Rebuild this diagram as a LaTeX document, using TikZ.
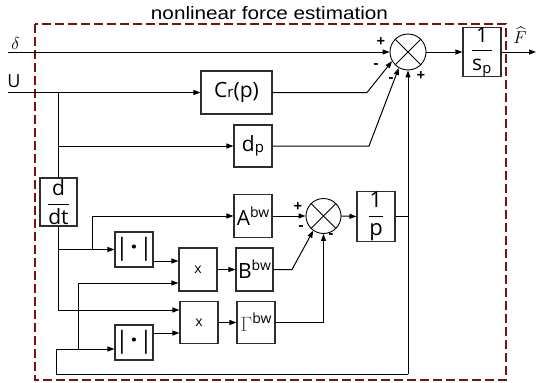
\documentclass[tikz,border=0pt]{standalone}
\usepackage{fontspec}
\usepackage{amsmath}
\setmainfont{Open Sans}
\newfontfamily\titlefont[FakeStretch=1.15]{Liberation Sans}
\usetikzlibrary{arrows.meta}
\definecolor{framec}{RGB}{122,16,16}
\definecolor{boxc}{RGB}{45,45,45}
\begin{document}
\begin{tikzpicture}[x=1pt,y=-1pt,
  >={Triangle[length=7pt,width=5pt]},
  blk/.style={draw=boxc, line width=1.1pt, inner sep=0pt, font=\fontsize{21}{23}\selectfont},
  sumj/.style={circle, draw=black, line width=0.9pt, minimum size=36pt, inner sep=0pt,
    path picture={\draw[line width=0.8pt] (path picture bounding box.north west) -- (path picture bounding box.south east)
      (path picture bounding box.north east) -- (path picture bounding box.south west);}},
  wire/.style={line width=1pt},
  sgn/.style={font=\fontsize{15}{15}\selectfont\bfseries, inner sep=0pt},
  absbox/.style={blk, minimum width=38pt, minimum height=35pt, font=\fontsize{24}{24}\selectfont},
  lbl/.style={font=\fontsize{18}{18}\selectfont, inner sep=0pt}]
\useasboundingbox (0,0) rectangle (536,383);
% frame
\draw[framec, line width=2.5pt, dash pattern=on 9pt off 4pt] (35,24) rectangle (506,380);
\node[font=\titlefont\fontsize{18}{20}\selectfont, anchor=base, inner sep=0pt] (title) at (269.5,19) {nonlinear force estimation};
% blocks
\node[sumj] (s1) at (408,52) {};
\node[blk, minimum width=38pt, minimum height=46pt] (F1) at (482,52) {$\dfrac{\text{1}}{\text{s}_{\text{p}}}$};
\node[blk, minimum width=71pt, minimum height=43pt] (Cr) at (236.5,92.5) {C{\fontsize{15}{15}\selectfont r}(p)};
\node[blk, minimum width=38pt, minimum height=42pt] (dp) at (253,146) {d\raisebox{-1.5pt}{\fontsize{15}{15}\selectfont p}};
\node[blk, minimum width=37pt, minimum height=48pt] (ddt) at (58.5,202) {$\dfrac{\text{d}}{\text{dt}}$};
\node[blk, minimum width=38pt, minimum height=43pt] (A) at (253,216) {A\raisebox{8pt}{\fontsize{14}{14}\selectfont bw}};
\node[sumj, minimum size=35pt] (s2) at (323.5,216) {};
\node[blk, minimum width=38pt, minimum height=49pt, font=\fontsize{22}{24}\selectfont] (ip) at (376,216.5) {$\dfrac{\text{1}}{\text{p}}$};
\node[absbox] (ab1) at (134,249.5) {|\hspace{2pt}\textbf{·}\hspace{2pt}|};
\node[absbox] (ab2) at (134,342.5) {|\hspace{2pt}\textbf{·}\hspace{2pt}|};
\node[blk, minimum width=38pt, minimum height=43pt, font=\fontsize{14}{14}\selectfont] (m1) at (198,269.5) {x};
\node[blk, minimum width=38pt, minimum height=42pt, font=\fontsize{14}{14}\selectfont] (m2) at (199,322.5) {x};
\node[blk, minimum width=37pt, minimum height=43pt] (B) at (254.5,269.5) {B\raisebox{8pt}{\fontsize{14}{14}\selectfont bw}};
\node[blk, minimum width=38pt, minimum height=42pt] (G) at (256,322.5) {\textcolor{black!70}{$\Gamma$}\raisebox{8pt}{\fontsize{14}{14}\selectfont bw}};
% labels
\node[lbl] (dl) at (15.5,43.5) {$\delta$};
\node[lbl] (ul) at (14,81) {U};
\node[lbl] (fl) at (520,35) {$\widehat{F}$};
% free ends
\coordinate (din) at (8,52);
\coordinate (uin) at (8,92.5);
\coordinate (out) at (536,52);
% wires
\draw[wire,->] (din) -- (s1.west);
\draw[wire,->] (s1.east) -- (F1.west);
\draw[wire,->] (F1.east) -- (out);
\draw[wire,->] (uin) -- (Cr.west);
\draw[wire,->] (Cr.east) -- (367,92.5) -- (s1.210);
\draw[wire,->] (dp.east) -- (369,146) -- (s1.240);
\draw[wire] (ddt.north |- uin) -- (ddt.north);
\draw[wire,->] (ddt.north |- dp.west) -- (dp.west);
\draw[wire,->] (ddt.south) -- (58.5,310) -- (m2.west |- 0,310);
\draw[wire,->] (58.5,249.5) -- (ab1.west);
\draw[wire,->] (92,249.5) -- (92,216) -- (A.west);
\draw[wire,->] (ab1.east |- 0,261) -- (m1.west |- 0,261);
\draw[wire,->] (m1.east) -- (B.west);
\draw[wire,->] (m2.east) -- (G.west);
\draw[wire,->] (ab2.east |- 0,333) -- (m2.west |- 0,333);
\draw[wire,->] (A.east) -- (s2.west);
\draw[wire,->] (B.east) -- (292,269.5) -- (s2.235);
\draw[wire,->] (G.east) -- (s2.south |- G.east) -- (s2.south);
\draw[wire,->] (s2.east) -- (ip.west);
\draw[wire] (ip.east) -- (ip.east -| s1.south);
\draw[wire,->] (s1.south |- 0,374) -- (s1.south);
\draw[wire,->] (s1.south |- 0,374) -- (56,374) -- (56,349) -- (ab2.west |- 0,349);
\draw[wire,->] (78,349) -- (78,283) -- (m1.west |- 0,283);
% signs
\node[sgn] at (381,42) {+};
\node[sgn] at (376,66) {-};
\node[sgn] at (391,80) {-};
\node[sgn] at (421,76) {+};
\node[sgn] at (298,207) {+};
\node[sgn] at (301,228) {-};
\node[sgn] at (331,236) {-};
\end{tikzpicture}
\end{document}
